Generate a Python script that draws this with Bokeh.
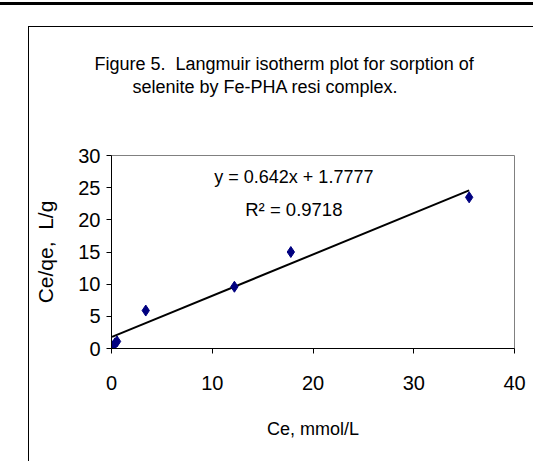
from bokeh.plotting import figure
from bokeh.models import Label, FixedTicker, Range1d, Title, Div
from bokeh.layouts import column
from bokeh.embed import file_html
from bokeh.resources import INLINE

# ---- data ----
ce = [0.05, 0.2, 0.35, 0.55, 3.4, 12.2, 17.8, 35.5]          # Ce, mmol/L
ceqe = [0.2, 0.45, 0.8, 1.1, 5.9, 9.6, 15.0, 23.5]           # Ce/qe, L/g
slope = 0.642
intercept = 1.7777
x_ticks = [0, 10, 20, 30, 40]
y_ticks = [0, 5, 10, 15, 20, 25, 30]
title_lines = ["Figure 5.\u00a0 Langmuir isotherm plot for sorption of",
               "selenite by Fe-PHA resi complex."]
eq_text = "y = 0.642x + 1.7777"
r2_text = "R\u00b2 = 0.9718"
x_label = "Ce, mmol/L"
y_label = "Ce/qe,\u00a0 L/g"

FONT = "Liberation Sans"

p = figure(width=505, height=435,
           x_range=Range1d(0, 40), y_range=Range1d(0, 30),
           output_backend="svg", toolbar_location=None,
           min_border_left=82, min_border_right=20,
           min_border_top=128, min_border_bottom=114,
           margin=(21, 0, 0, 28))
p.title = None
p.styles = {"border-left": "1px solid black", "border-top": "1px solid black"}
p.background_fill_color = "white"
p.border_fill_color = "white"
p.outline_line_color = "#808080"
p.outline_line_width = 1
p.xgrid.visible = False
p.ygrid.visible = False

for ax in (p.xaxis, p.yaxis):
    ax.axis_line_color = "black"
    ax.major_tick_line_color = "black"
    ax.major_tick_out = 5
    ax.major_tick_in = 0
    ax.minor_tick_line_color = None
    ax.major_label_text_font = FONT
    ax.major_label_text_font_size = "20px"
    ax.major_label_text_color = "black"
    ax.axis_label_text_font = FONT
    ax.axis_label_text_font_style = "normal"
    ax.axis_label_text_color = "black"

p.xaxis.ticker = FixedTicker(ticks=x_ticks)
p.yaxis.ticker = FixedTicker(ticks=y_ticks)
p.xaxis.major_label_standoff = 22
p.yaxis.major_label_standoff = 6
p.xaxis.axis_label = x_label
p.yaxis.axis_label = y_label
p.xaxis.axis_label_text_font_size = "18px"
p.yaxis.axis_label_text_font_size = "21px"
p.xaxis.axis_label_standoff = 26
p.yaxis.axis_label_standoff = 18

# trend line from the fitted equation
xs = [min(ce), max(ce)]
ys = [slope * x + intercept for x in xs]
p.line(xs, ys, line_color="black", line_width=2)

p.scatter(ce, ceqe, marker="diamond", size=11,
          fill_color="#000080", line_color="#000080")

# titles: spacer nearest the frame, then line 2, then line 1
p.add_layout(Title(text=" ", text_font_size="10px", standoff=45), "above")
p.add_layout(Title(text=title_lines[1], align="left", offset=21, standoff=2,
                   text_font=FONT, text_font_size="18px",
                   text_font_style="normal", text_color="black"), "above")
p.add_layout(Title(text=title_lines[0], align="left", offset=-17, standoff=0,
                   text_font=FONT, text_font_size="18px",
                   text_font_style="normal", text_color="black"), "above")

p.add_layout(Label(x=18.1, y=26.6, text=eq_text, text_align="center",
                   text_baseline="alphabetic", text_font=FONT,
                   text_font_size="18px", text_color="black"))
p.add_layout(Label(x=18.1, y=21.6, text=r2_text, text_align="center",
                   text_baseline="alphabetic", text_font=FONT,
                   text_font_size="18.5px", text_color="black"))

top_line = Div(text="", width=533, height=3, margin=(2, 0, 0, 0),
               styles={"background-color": "black"})

layout = column(top_line, p, spacing=0)

open("out.html", "w").write(file_html(layout, INLINE))
